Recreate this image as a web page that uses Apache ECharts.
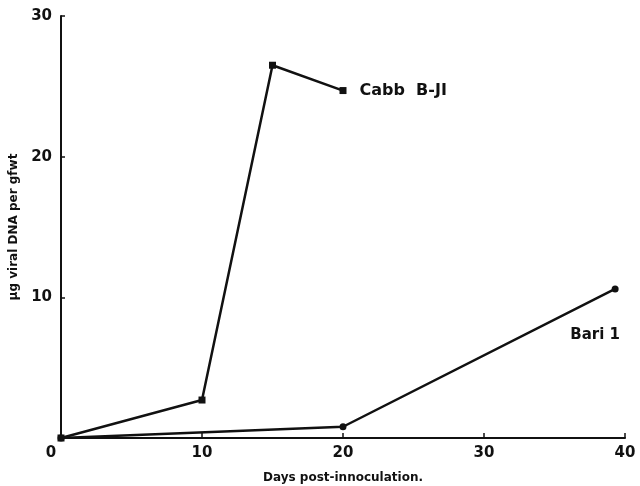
<!DOCTYPE html>
<html>
<head>
<meta charset="utf-8">
<script src="https://cdn.jsdelivr.net/npm/echarts@6/dist/echarts.min.js"></script>
<style>html,body{margin:0;padding:0;background:#fff}#c{width:640px;height:486px}</style>
</head>
<body>
<div id="c"></div>
<script>
var cabbName = "Cabb  B-JI";
var cabbDays = [0, 10, 15, 20];
var cabbValues = [0, 2.7, 26.5, 24.7];
var bariName = "Bari 1";
var bariDays = [0, 20, 39.3];
var bariValues = [0, 0.8, 10.6];
var xTicks = [0, 10, 20, 30, 40];
var yTicks = [0, 10, 20, 30];
var xAxisTitle = "Days post-innoculation.";
var yAxisTitle = "\u00b5g viral DNA per gfwt";

function pairs(xs, ys) { return xs.map(function (x, i) { return [x, ys[i]]; }); }

var font = "DejaVu Sans, Liberation Sans, sans-serif";
var cabbData = pairs(cabbDays, cabbValues);
var bariData = pairs(bariDays, bariValues);
cabbData[cabbData.length - 1] = {
  value: cabbData[cabbData.length - 1],
  label: { show: true, position: 'right', distance: 13, formatter: cabbName, color: '#111', fontWeight: 'bold', fontSize: 16, fontFamily: font }
};
bariData[bariData.length - 1] = {
  value: bariData[bariData.length - 1],
  label: { show: true, position: 'bottom', distance: 35, offset: [-20, 0], formatter: bariName, color: '#111', fontWeight: 'bold', fontSize: 15, fontFamily: font }
};

var chart = echarts.init(document.getElementById('c'), null, { renderer: 'canvas' });
chart.setOption({
  animation: false,
  backgroundColor: '#fff',
  grid: { left: 61, right: 15, top: 16, bottom: 48, containLabel: false, outerBoundsMode: 'none' },
  xAxis: {
    type: 'value', min: xTicks[0], max: xTicks[xTicks.length - 1], interval: 10,
    axisLine: { show: true, onZero: false, lineStyle: { color: '#111', width: 2 } },
    axisTick: { show: true, inside: true, length: 5, lineStyle: { color: '#111', width: 1.5 } },
    splitLine: { show: false },
    axisLabel: {
      color: '#111', fontSize: 15, fontWeight: 'bold', fontFamily: font, margin: 8,
      formatter: function (v) { return v === 0 ? '{z|0}' : String(v); },
      rich: { z: { fontSize: 15, fontWeight: 'bold', fontFamily: font, color: '#111', padding: [0, 20, 0, 0] } }
    },
    name: xAxisTitle, nameLocation: 'middle', nameGap: 34,
    nameTextStyle: { color: '#111', fontSize: 12, fontWeight: 'bold', fontFamily: font }
  },
  yAxis: {
    type: 'value', min: yTicks[0], max: yTicks[yTicks.length - 1], interval: 10,
    axisLine: { show: true, onZero: false, lineStyle: { color: '#111', width: 2 } },
    axisTick: { show: true, inside: true, length: 4, lineStyle: { color: '#111', width: 1.5 } },
    splitLine: { show: false },
    axisLabel: {
      color: '#111', fontSize: 15, fontWeight: 'bold', fontFamily: font, margin: 9,
      formatter: function (v) { return v === 0 ? '' : String(v); }
    },
    name: yAxisTitle, nameLocation: 'middle', nameGap: 41, nameRotate: 90,
    nameTextStyle: { color: '#111', fontSize: 12, fontWeight: 'bold', fontFamily: font }
  },
  series: [
    {
      name: cabbName, type: 'line', data: cabbData,
      symbol: 'rect', symbolSize: 7,
      lineStyle: { color: '#111', width: 2.5 },
      itemStyle: { color: '#111' }
    },
    {
      name: bariName, type: 'line', data: bariData,
      symbol: 'circle', symbolSize: 7,
      lineStyle: { color: '#111', width: 2.5 },
      itemStyle: { color: '#111' }
    }
  ]
});
</script>
</body>
</html>
